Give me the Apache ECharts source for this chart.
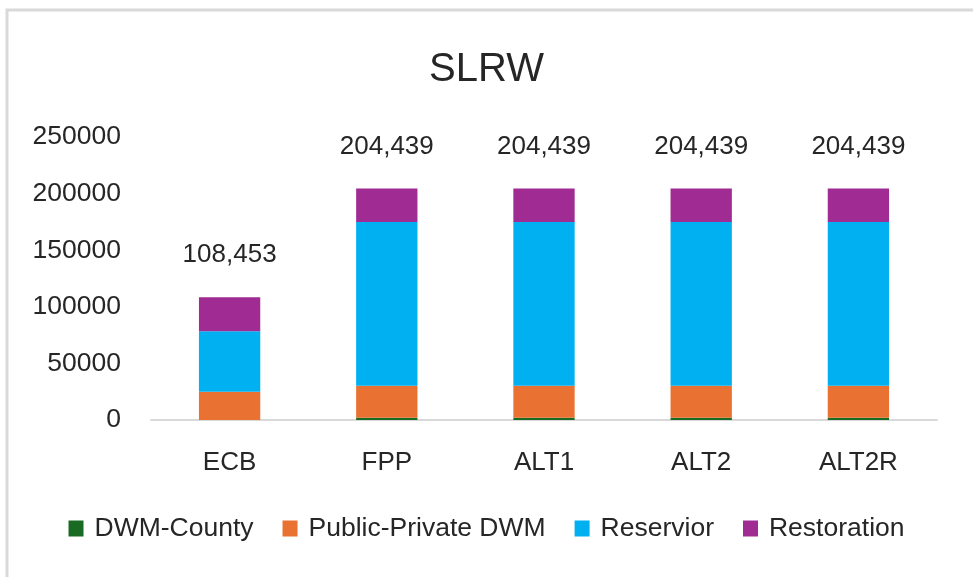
<!DOCTYPE html>
<html>
<head>
<meta charset="utf-8">
<script src="https://cdn.jsdelivr.net/npm/echarts@6/dist/echarts.min.js"></script>
<style>
  html, body { margin: 0; padding: 0; background: #ffffff; }
  #chart { width: 973px; height: 577px; }
</style>
</head>
<body>
<div id="chart"></div>
<script>
// Scenarios on the x axis
const categories = ['ECB', 'FPP', 'ALT1', 'ALT2', 'ALT2R'];

// Stacked components per scenario
const dwmCounty = [0, 2000, 2000, 2000, 2000];
const publicPrivateDwm = [25000, 28200, 28200, 28200, 28200];
const reservior = [53500, 144700, 144700, 144700, 144700];
const restoration = [29953, 29539, 29539, 29539, 29539];

const seriesNames = ['DWM-County', 'Public-Private DWM', 'Reservior', 'Restoration'];
const seriesColors = ['#196b24', '#e97132', '#00b0f0', '#a02b93'];
const seriesData = [dwmCounty, publicPrivateDwm, reservior, restoration];

const yTicks = { min: 0, max: 250000, interval: 50000 };

const FONT = '"Liberation Sans", Arial, sans-serif';
const TEXT = '#262626';

// Stack total for one category
function stackTotal(i) {
  return seriesData.reduce((s, arr) => s + arr[i], 0);
}

const series = seriesData.map((data, k) => {
  const s = {
    name: seriesNames[k],
    type: 'bar',
    stack: 'total',
    barWidth: '39%',
    data: data,
    itemStyle: { color: seriesColors[k] }
  };
  if (k === seriesData.length - 1) {
    s.label = {
      show: true,
      position: 'top',
      distance: 29,
      fontFamily: FONT,
      fontSize: 26,
      color: TEXT,
      formatter: p => stackTotal(p.dataIndex).toLocaleString('en-US')
    };
  }
  return s;
});

const chart = echarts.init(document.getElementById('chart'), null, { renderer: 'canvas' });
chart.setOption({
  backgroundColor: '#ffffff',
  animation: false,
  title: {
    text: 'SLRW',
    left: 'center',
    top: 45,
    textStyle: { fontFamily: FONT, fontSize: 40, fontWeight: 'normal', color: TEXT }
  },
  graphic: [{
    type: 'rect',
    shape: { x: 7, y: 10, width: 1000, height: 700 },
    style: { fill: 'none', stroke: '#d9d9d9', lineWidth: 3 },
    silent: true
  }],
  grid: { left: 151, right: 36, top: 137, bottom: 157 },
  legend: {
    data: seriesNames,
    bottom: 30,
    left: 'center',
    icon: 'rect',
    itemWidth: 15,
    itemHeight: 16,
    itemGap: 29,
    textStyle: { fontFamily: FONT, fontSize: 26.5, color: TEXT, padding: [0, 0, 0, 6] }
  },
  xAxis: {
    type: 'category',
    data: categories,
    axisLine: { lineStyle: { color: '#d9d9d9', width: 2 } },
    axisTick: { show: false },
    axisLabel: { fontFamily: FONT, fontSize: 26, color: TEXT, margin: 30 }
  },
  yAxis: {
    type: 'value',
    min: yTicks.min,
    max: yTicks.max,
    interval: yTicks.interval,
    splitLine: { show: false },
    axisLine: { show: false },
    axisTick: { show: false },
    axisLabel: {
      fontFamily: FONT, fontSize: 26.5, color: TEXT, margin: 30,
      formatter: v => String(v)
    }
  },
  series: series
});
</script>
</body>
</html>
